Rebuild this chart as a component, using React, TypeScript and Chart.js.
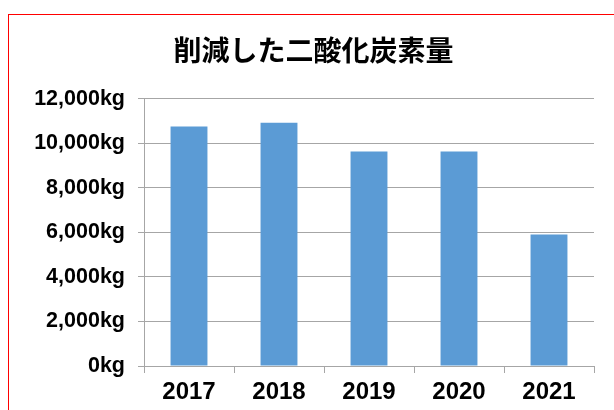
import React, { useEffect, useRef } from "react";
import { Chart, registerables } from "chart.js";

Chart.register(...registerables);

const title = "削減した二酸化炭素量";
const years = ["2017", "2018", "2019", "2020", "2021"];
const reducedKg = [10750, 10920, 9630, 9630, 5900];
const yMin = 0;
const yMax = 12000;
const yStep = 2000;
const unit = "kg";

export default function App() {
  const ref = useRef<HTMLCanvasElement | null>(null);

  useEffect(() => {
    if (!ref.current) return;
    const chart = new Chart(ref.current, {
      type: "bar",
      data: {
        labels: years,
        datasets: [
          {
            data: reducedKg,
            backgroundColor: "#5B9BD5",
            borderWidth: 0,
            categoryPercentage: 1,
            barPercentage: 0.41,
            yAxisID: "y",
          },
        ],
      },
      options: {
        responsive: false,
        animation: false,
        layout: { padding: { left: 20, right: 7, top: 0, bottom: 0 } },
        plugins: {
          legend: { display: false },
          tooltip: { enabled: false },
          title: {
            display: true,
            text: title,
            color: "#000",
            font: { family: "'Noto Sans CJK JP', sans-serif", size: 28, weight: "bold" },
            padding: { top: 34, bottom: 31 },
          },
        },
        scales: {
          x: {
            afterFit: (s: any) => {
              s.height = 44;
            },
            grid: {
              display: true,
              drawOnChartArea: false,
              drawTicks: true,
              tickLength: 7,
              color: "#a6a6a6",
              offset: true,
            },
            border: { display: true, color: "#a6a6a6", width: 1 },
            ticks: {
              color: "#000",
              padding: 5,
              font: { family: "'Liberation Sans', Arial, sans-serif", size: 24, weight: "bold" },
            },
          },
          y: {
            min: yMin,
            max: yMax,
            afterFit: (s: any) => {
              s.width = 124;
            },
            grid: {
              color: "#a6a6a6",
              drawTicks: true,
              tickLength: 6,
            },
            border: { display: true, color: "#a6a6a6", width: 1 },
            ticks: {
              stepSize: yStep,
              color: "#000",
              padding: 13,
              font: { family: "'Liberation Sans', Arial, sans-serif", size: 21.5, weight: "bold" },
              callback: (v: any) => Number(v).toLocaleString("en-US") + unit,
            },
          },
          yRight: {
            type: "linear",
            position: "right",
            display: true,
            min: yMin,
            max: yMax,
            afterFit: (s: any) => {
              s.width = 13;
            },
            grid: { display: false, drawTicks: false },
            border: { display: false },
            ticks: { display: false },
          },
        },
      },
    });
    return () => chart.destroy();
  }, []);

  return (
    <div>
      <div
        style={{
          position: "absolute",
          left: 8,
          top: 14,
          width: 606,
          height: 396,
          boxSizing: "border-box",
          borderTop: "1px solid #ff0000",
          borderLeft: "1px solid #ff0000",
        }}
      />
      <canvas
        ref={ref}
        width={614}
        height={410}
        style={{ position: "absolute", left: 0, top: 0, width: 614, height: 410 }}
      />
    </div>
  );
}
